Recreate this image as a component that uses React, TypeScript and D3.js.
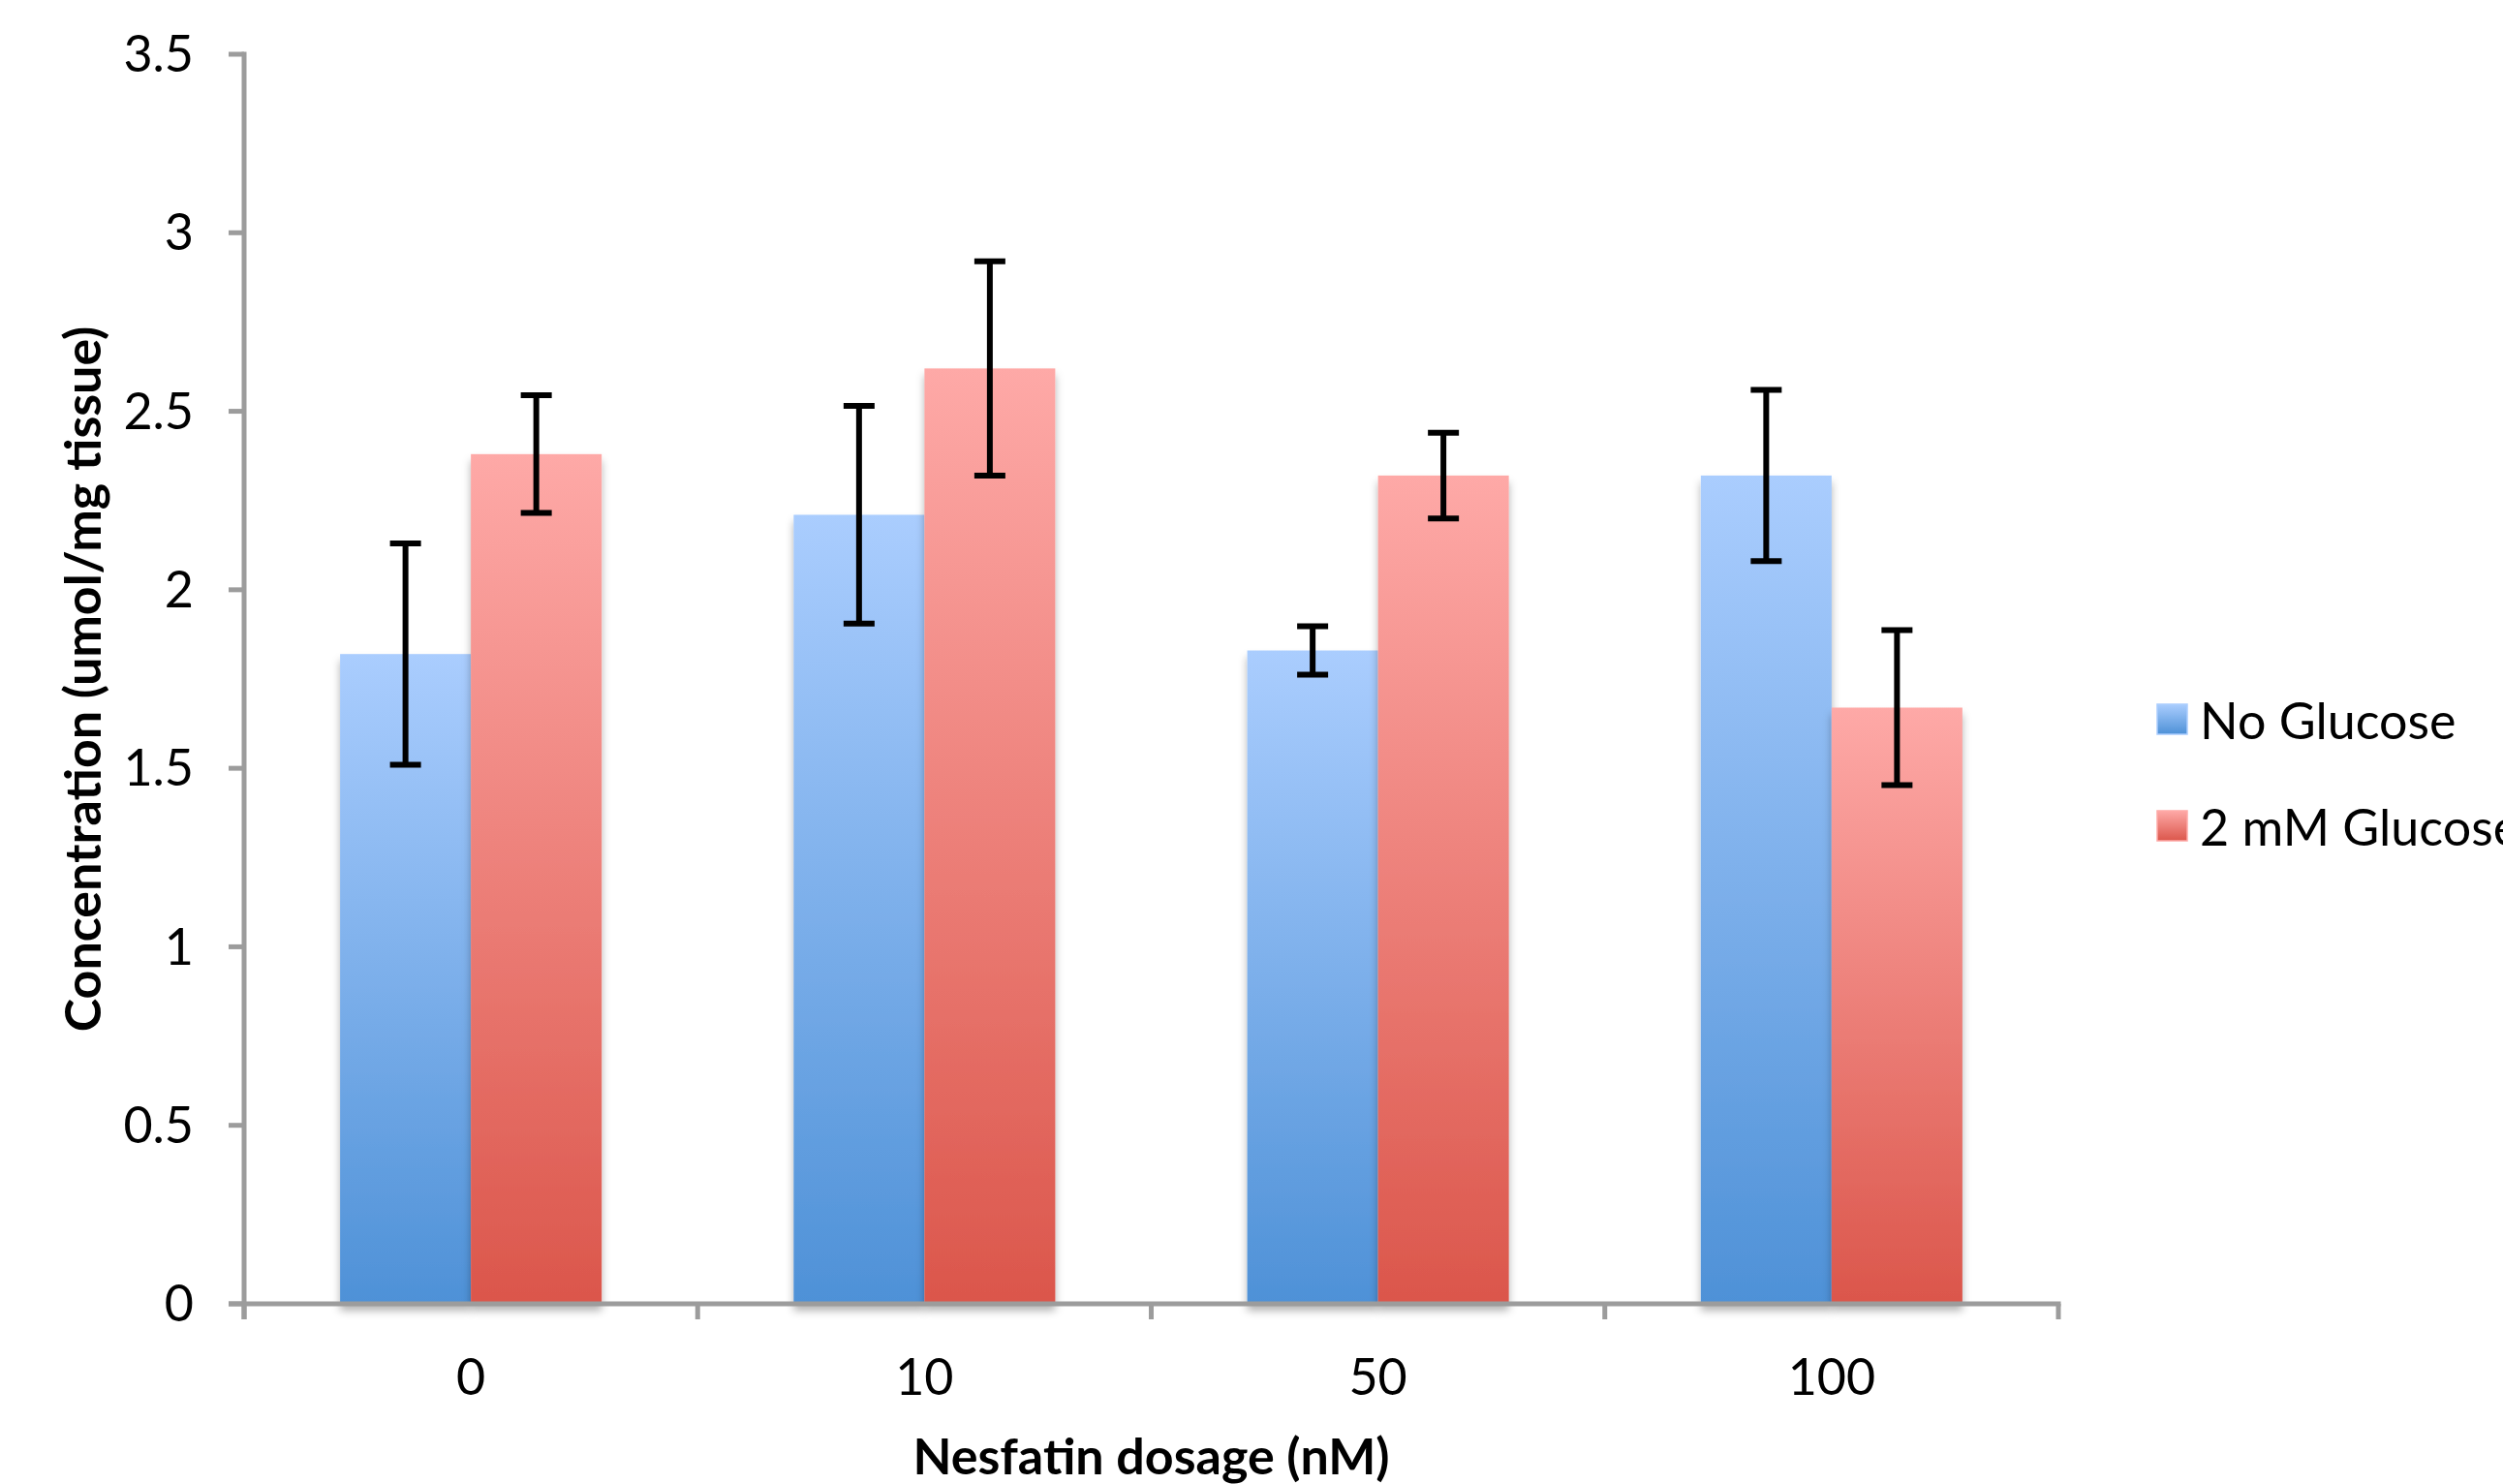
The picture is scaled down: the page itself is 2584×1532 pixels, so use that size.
import * as d3 from 'd3';

const W = 2584;
const H = 1532;

const categories = ['0', '10', '50', '100'];
const seriesNames = ['No Glucose', '2 mM Glucose'];
const noGlucose = [1.82, 2.21, 1.83, 2.32];
const noGlucoseErr = [0.31, 0.305, 0.068, 0.24];
const glucose = [2.38, 2.62, 2.32, 1.67];
const glucoseErr = [0.165, 0.3, 0.12, 0.217];
const yTicks = [0, 0.5, 1, 1.5, 2, 2.5, 3, 3.5];

const GRADIENTS = [
  { id: 'grad-blue', top: '#aacdfe', bottom: '#4e91d7' },
  { id: 'grad-red', top: '#fea9a7', bottom: '#db564b' },
];

const FONT = 'Lato, "Open Sans", sans-serif';
const AXIS = '#9c9c9c';

const LEFT = 252;
const RIGHT = 2125;
const TOP = 56;
const BOTTOM = 1346;

export default function App() {
  const x = d3.scaleBand<string>().domain(categories).range([LEFT, RIGHT]).padding(0);
  const inner = d3
    .scaleBand<number>()
    .domain([0, 1])
    .range([0, x.bandwidth()])
    .paddingInner(0)
    .paddingOuter(0.734);
  const y = d3.scaleLinear().domain([0, 3.5]).range([BOTTOM, TOP]);

  const series = [
    { values: noGlucose, errs: noGlucoseErr },
    { values: glucose, errs: glucoseErr },
  ];

  const boundaries = [...categories.map((c) => x(c) ?? 0), RIGHT];

  return (
    <svg
      width={W}
      height={H}
      viewBox={`0 0 ${W} ${H}`}
      style={{ position: 'absolute', left: 0, top: 0, background: '#fff' }}
    >
      <defs>
        {GRADIENTS.map((g) => (
          <linearGradient key={g.id} id={g.id} x1="0" y1="0" x2="0" y2="1">
            <stop offset="0%" stopColor={g.top} />
            <stop offset="100%" stopColor={g.bottom} />
          </linearGradient>
        ))}
        <filter id="bar-shadow" x="-20%" y="-10%" width="140%" height="120%">
          <feDropShadow dx="0" dy="7" stdDeviation="4" floodColor="#000" floodOpacity="0.3" />
        </filter>
      </defs>

      {/* bars */}
      {categories.map((cat, ci) => (
        <g key={cat} transform={`translate(${x(cat)},0)`}>
          {series.map((s, si) => (
            <rect
              key={si}
              x={inner(si)}
              y={y(s.values[ci])}
              width={inner.bandwidth()}
              height={y(0) - y(s.values[ci])}
              fill={`url(#${GRADIENTS[si].id})`}
              filter="url(#bar-shadow)"
            />
          ))}
        </g>
      ))}

      {/* error bars */}
      {categories.map((cat, ci) =>
        series.map((s, si) => {
          const cx = (x(cat) ?? 0) + (inner(si) ?? 0) + inner.bandwidth() / 2;
          const hi = y(s.values[ci] + s.errs[ci]);
          const lo = y(s.values[ci] - s.errs[ci]);
          return (
            <g key={`${cat}-${si}`} stroke="#000" strokeWidth={6}>
              <line x1={cx} x2={cx} y1={hi} y2={lo} />
              <line x1={cx - 16} x2={cx + 16} y1={hi} y2={hi} />
              <line x1={cx - 16} x2={cx + 16} y1={lo} y2={lo} />
            </g>
          );
        }),
      )}

      {/* axes */}
      <g stroke={AXIS} strokeWidth={5}>
        <line x1={LEFT} x2={LEFT} y1={TOP - 2.5} y2={BOTTOM + 16} />
        {yTicks.map((t) => (
          <line key={t} x1={LEFT - 16} x2={LEFT} y1={y(t)} y2={y(t)} />
        ))}
        <line x1={LEFT - 16} x2={RIGHT + 2.5} y1={BOTTOM} y2={BOTTOM} />
        {boundaries.map((b, i) => (
          <line key={i} x1={b} x2={b} y1={BOTTOM} y2={BOTTOM + 16} />
        ))}
      </g>

      <g fontFamily={FONT} fontSize={52} fill="#000">
        {yTicks.map((t) => (
          <text key={t} x={LEFT - 52} y={y(t)} dy="0.35em" textAnchor="end">
            {String(t)}
          </text>
        ))}
        {categories.map((c) => (
          <text key={c} x={(x(c) ?? 0) + x.bandwidth() / 2} y={1440} textAnchor="middle">
            {c}
          </text>
        ))}
      </g>

      <text
        x={(LEFT + RIGHT) / 2}
        y={1522}
        textAnchor="middle"
        fontFamily={FONT}
        fontSize={52}
        fontWeight={700}
      >
        Nesfatin dosage (nM)
      </text>
      <text
        transform={`translate(104,${(TOP + BOTTOM) / 2}) rotate(-90)`}
        textAnchor="middle"
        fontFamily={FONT}
        fontSize={52}
        fontWeight={700}
      >
        Concentration (umol/mg tissue)
      </text>

      {/* legend */}
      {seriesNames.map((name, i) => (
        <g key={name} transform={`translate(2227,${727 + i * 110})`}>
          <rect
            width={31}
            height={31}
            fill={`url(#${GRADIENTS[i].id})`}
            stroke={GRADIENTS[i].top}
            strokeWidth={1.5}
          />
          <text x={44} y={36} fontFamily={FONT} fontSize={52} fill="#000">
            {name}
          </text>
        </g>
      ))}
    </svg>
  );
}
